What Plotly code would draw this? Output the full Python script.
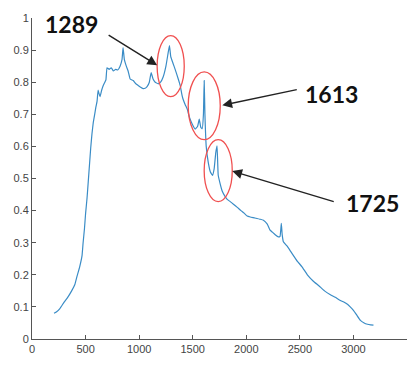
import plotly.graph_objects as go

wavenumber = [206, 230, 260, 300, 330, 370, 400, 420, 445, 467, 477, 490, 500, 514, 525, 537, 548, 560, 572, 585,
              595, 607, 617, 625, 635, 650,
              665, 680, 690, 700, 720, 740, 760, 780, 800, 822, 840, 850, 862, 880, 897, 916, 944, 970, 990, 1010,
              1037, 1060, 1074, 1095, 1112, 1130, 1150, 1178, 1200, 1224, 1250, 1270, 1283, 1295, 1315, 1336, 1365,
              1383, 1400, 1411, 1430, 1449, 1470, 1495, 1523, 1545, 1561, 1575, 1589, 1600, 1607, 1614, 1626, 1645,
              1665, 1685, 1700, 1715, 1727, 1738, 1755, 1776, 1800, 1822, 1850, 1880, 1916, 1950, 1980, 2009, 2037,
              2080, 2131, 2160, 2196, 2220, 2243, 2270, 2299, 2315, 2327, 2335, 2346, 2380, 2420, 2477, 2520, 2570,
              2626, 2680, 2730, 2785, 2830, 2878, 2910, 2944, 2970, 3000, 3030, 3065, 3100, 3131, 3160, 3187]
intensity = [0.080, 0.085, 0.095, 0.115, 0.128, 0.150, 0.170, 0.195, 0.225, 0.260, 0.300, 0.345, 0.390, 0.440, 0.490,
             0.545, 0.595, 0.640, 0.675, 0.700, 0.720,
             0.740, 0.775, 0.765, 0.755, 0.775, 0.790, 0.800, 0.807, 0.845, 0.840, 0.845, 0.835, 0.840, 0.838, 0.850,
             0.870, 0.908, 0.870, 0.850, 0.835, 0.810, 0.805, 0.795, 0.790, 0.785, 0.780, 0.782, 0.786, 0.800, 0.830,
             0.810, 0.800, 0.795, 0.800, 0.816, 0.850, 0.890, 0.914, 0.880, 0.860, 0.840, 0.810, 0.790, 0.760, 0.746,
             0.730, 0.716, 0.690, 0.670, 0.654, 0.662, 0.685, 0.660, 0.655, 0.700, 0.805, 0.700, 0.600, 0.550, 0.520,
             0.510, 0.530, 0.580, 0.602, 0.510, 0.485, 0.460, 0.445, 0.435, 0.428, 0.420, 0.410, 0.400, 0.392, 0.383,
             0.380, 0.377, 0.373, 0.370, 0.358, 0.340, 0.333, 0.325, 0.318, 0.320, 0.360, 0.325, 0.303, 0.290, 0.270,
             0.242, 0.225, 0.200, 0.180, 0.165, 0.150, 0.138, 0.130, 0.120, 0.115, 0.108, 0.100, 0.089, 0.075, 0.058,
             0.050, 0.046, 0.044, 0.043]

peak_labels = ["1289", "1613", "1725"]
x_ticks = [0, 500, 1000, 1500, 2000, 2500, 3000, 3500]
y_ticks = [0, 0.1, 0.2, 0.3, 0.4, 0.5, 0.6, 0.7, 0.8, 0.9, 1]
y_tick_text = ["0", "0.1", "0.2", "0.3", "0.4", "0.5", "0.6", "0.7", "0.8", "0.9", "1"]

fig = go.Figure()
fig.add_trace(go.Scatter(x=wavenumber, y=intensity, mode="lines",
                         line=dict(color="#3a8cc6", width=1.2, shape="spline", smoothing=0.3),
                         showlegend=False))

# red ellipses around peaks
ellipses = [(1168, 1421, 0.755, 0.945), (1458, 1757, 0.621, 0.832), (1607, 1869, 0.428, 0.621)]
for x0, x1, y0, y1 in ellipses:
    fig.add_shape(type="circle", xref="x", yref="y", x0=x0, x1=x1, y0=y0, y1=y1,
                  line=dict(color="#f05050", width=1.3))

# arrows
arrows = [(1168, 0.853, -50, -31), (1776, 0.728, 76, -16), (1869, 0.523, 103, 31)]
for hx, hy, ax, ay in arrows:
    fig.add_annotation(x=hx, y=hy, xref="x", yref="y", text="", showarrow=True,
                       ax=ax, ay=ay, arrowhead=2, arrowsize=1.4, arrowwidth=1.4, arrowcolor="#222222")

# labels
label_pos = [(364, 0.982), (2794, 0.762), (3178, 0.425)]
for (lx, ly), txt in zip(label_pos, peak_labels):
    fig.add_annotation(x=lx, y=ly, xref="x", yref="y", text="<b>%s</b>" % txt, showarrow=False,
                       font=dict(family="Lato", size=23, color="#111111"))

fig.update_layout(
    width=419, height=367,
    margin=dict(l=32, r=12, t=15, b=25),
    paper_bgcolor="white", plot_bgcolor="white",
    font=dict(family="Liberation Sans", size=11, color="#444444"),
)
fig.update_xaxes(range=[0, 3500], tickvals=x_ticks, ticks="inside", ticklen=4, tickcolor="#555555",
                 showline=True, linecolor="#555555", linewidth=1, showgrid=False, zeroline=False)
fig.update_yaxes(range=[0, 1], tickvals=y_ticks, ticktext=y_tick_text, ticks="inside", ticklen=4,
                 tickcolor="#555555", showline=True, linecolor="#555555", linewidth=1,
                 showgrid=False, zeroline=False)

fig.write_html("out.html")
